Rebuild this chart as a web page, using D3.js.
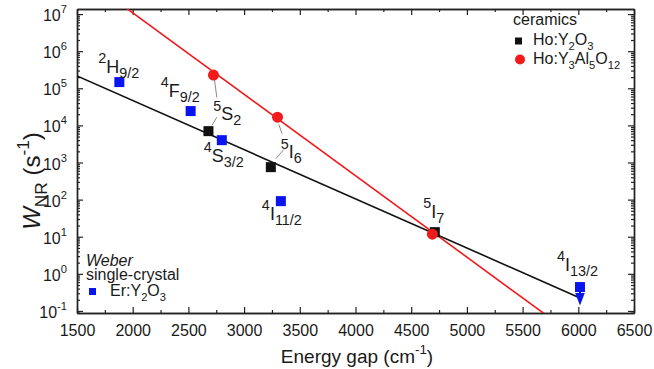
<!DOCTYPE html>
<html>
<head>
<meta charset="utf-8">
<script src="https://cdn.jsdelivr.net/npm/d3@7"></script>
<style>
  body { margin: 0; background: #fff; }
  text { font-family: "Liberation Sans", Arial, sans-serif; fill: #1a1a1a; }
</style>
</head>
<body>
<svg id="chart" width="654" height="369"></svg>
<script>
// Non-radiative decay rate vs. energy gap to the next lower level.
// Ho:Y2O3 ceramics (energy gap in cm^-1, rate in s^-1)
const hoY2O3Gap = [2680, 3240, 4712];
const hoY2O3Rate = [7.0e3, 7.5e2, 13.3];
// Ho:Y3Al5O12 ceramics
const hoYAGGap = [2725, 3300, 4690];
const hoYAGRate = [2.27e5, 1.67e4, 11.7];
// Er:Y2O3 single crystal (Weber)
const erY2O3Gap = [1880, 2520, 2800, 3330, 6015];
const erY2O3Rate = [1.47e5, 2.43e4, 4.0e3, 91, 0.44];
// the last Er:Y2O3 value is an upper limit
const erY2O3UpperLimit = [false, false, false, false, true];

// level labels: [multiplicity, term, J]
const hoLevels = [["5", "S", "2"], ["5", "I", "6"], ["5", "I", "7"]];
const erLevels = [["2", "H", "9/2"], ["4", "F", "9/2"], ["4", "S", "3/2"], ["4", "I", "11/2"], ["4", "I", "13/2"]];

// energy-gap-law fits, given by their end points
const hoY2O3FitGap = [1500, 6000];
const hoY2O3FitRate = [2.15e5, 0.235];
const hoYAGFitGap = [1900, 5700];
const hoYAGFitRate = [1.79e7, 0.082];

// axis ticks
const xMajorTicks = [1500, 2000, 2500, 3000, 3500, 4000, 4500, 5000, 5500, 6000, 6500];
const xMinorTicks = [1750, 2250, 2750, 3250, 3750, 4250, 4750, 5250, 5750, 6250];
const yExponents = [-1, 0, 1, 2, 3, 4, 5, 6, 7];

const RED = "#f21a1a", BLUE = "#0a14f0", BLACK = "#111";

const svg = d3.select("#chart");
const plot = { left: 77, right: 634, top: 9, bottom: 313 };

const x = d3.scaleLinear().domain([1500, 6500]).range([plot.left, plot.right]);
const y = d3.scaleLog().domain([0.088, 1.37e7]).range([plot.bottom, plot.top]);

const yMajor = yExponents.map(e => Math.pow(10, e));
const yMinor = [];
[-2, ...yExponents].forEach(e => {
  for (let m = 2; m <= 9; m++) {
    const v = m * Math.pow(10, e);
    if (v >= y.domain()[0] && v <= y.domain()[1]) yMinor.push(v);
  }
});

// rich text helper: parts = [[text, "n" | "sup" | "sub"], ...]
function rich(sel, parts, size, opts = {}) {
  const supShift = opts.sup ?? 0.45, subShift = opts.sub ?? 0.3, small = opts.small ?? 0.7;
  let cur = -(opts.dy0 ?? 0);
  parts.forEach(([t, k]) => {
    const target = k === "sup" ? -supShift * size : k === "sub" ? subShift * size : 0;
    const ts = sel.append("tspan")
      .attr("dy", target - cur)
      .attr("font-size", k === "n" ? size : size * small)
      .text(t);
    if (opts.italic && opts.italic.includes(t)) ts.attr("font-style", "italic");
    cur = target;
  });
  return sel;
}

// ---- axes (ticks point inward, frame formed by the four domain lines)
function styleAxis(g) {
  g.select(".domain").attr("stroke", "#222").attr("stroke-width", 1.4);
  g.selectAll(".tick line").attr("stroke", "#222").attr("stroke-width", 1.2);
}

const gx = svg.append("g").attr("transform", `translate(0,${plot.bottom})`)
  .call(d3.axisBottom(x).tickValues(xMajorTicks).tickSize(-6).tickPadding(12).tickSizeOuter(0)
    .tickFormat(d3.format("d")))
  .call(styleAxis);
gx.selectAll(".tick text").attr("font-size", 16).attr("fill", "#1a1a1a")
  .style("font-family", "Liberation Sans, Arial, sans-serif");

svg.append("g").attr("transform", `translate(0,${plot.bottom})`)
  .call(d3.axisBottom(x).tickValues(xMinorTicks).tickSize(-3).tickFormat("").tickSizeOuter(0))
  .call(styleAxis);
svg.append("g").attr("transform", `translate(0,${plot.top})`)
  .call(d3.axisTop(x).tickValues(xMajorTicks).tickSize(-6).tickFormat("").tickSizeOuter(0))
  .call(styleAxis);
svg.append("g").attr("transform", `translate(0,${plot.top})`)
  .call(d3.axisTop(x).tickValues(xMinorTicks).tickSize(-3).tickFormat("").tickSizeOuter(0))
  .call(styleAxis);

const gy = svg.append("g").attr("transform", `translate(${plot.left},0)`)
  .call(d3.axisLeft(y).tickValues(yMajor).tickSize(-6).tickPadding(10).tickFormat("").tickSizeOuter(0))
  .call(styleAxis);
gy.selectAll(".tick text").each(function (d) {
  const t = d3.select(this).attr("font-size", 16).attr("dy", null)
    .style("font-family", "Liberation Sans, Arial, sans-serif");
  rich(t, [["10", "n"], [String(Math.round(Math.log10(d))), "sup"]], 16, { sup: 0.5, dy0: 6.5 });
});
svg.append("g").attr("transform", `translate(${plot.left},0)`)
  .call(d3.axisLeft(y).tickValues(yMinor).tickSize(-3).tickFormat("").tickSizeOuter(0))
  .call(styleAxis);
svg.append("g").attr("transform", `translate(${plot.right},0)`)
  .call(d3.axisRight(y).tickValues(yMajor).tickSize(-6).tickFormat("").tickSizeOuter(0))
  .call(styleAxis);
svg.append("g").attr("transform", `translate(${plot.right},0)`)
  .call(d3.axisRight(y).tickValues(yMinor).tickSize(-3).tickFormat("").tickSizeOuter(0))
  .call(styleAxis);

// axis titles
rich(svg.append("text").attr("x", 357).attr("y", 363).attr("text-anchor", "middle"),
  [["Energy gap (cm", "n"], ["-1", "sup"], [")", "n"]], 19);
rich(svg.append("text").attr("transform", "translate(40,181) rotate(-90)").attr("text-anchor", "middle"),
  [["W", "n"], ["NR", "sub"], [" (s", "n"], ["-1", "sup"], [")", "n"]], 24, { italic: ["W"], small: 0.72 });

// ---- fit lines, clipped to the frame
svg.append("clipPath").attr("id", "plot-clip").append("rect")
  .attr("x", plot.left).attr("y", plot.top)
  .attr("width", plot.right - plot.left).attr("height", plot.bottom - plot.top);

const line = d3.line().x(d => x(d[0])).y(d => y(d[1]));
const fits = svg.append("g").attr("clip-path", "url(#plot-clip)");
fits.append("path").datum(d3.zip(hoY2O3FitGap, hoY2O3FitRate))
  .attr("d", line).attr("fill", "none").attr("stroke", BLACK).attr("stroke-width", 1.6);
fits.append("path").datum(d3.zip(hoYAGFitGap, hoYAGFitRate))
  .attr("d", line).attr("fill", "none").attr("stroke", RED).attr("stroke-width", 1.6);

// ---- connectors from the ceramic points to their shared level labels
// [from-red offset, to offset], [from-black offset, to offset]
const connRed = [[[1, 4.5], [3.4, 22.6]], [[1.3, 7.3], [4.6, 16.6]]];
const connBlack = [[[8.4, -14], [3.4, -5.7]], [[13, -17.7], [5, -8.4]]];
const conn = svg.append("g").attr("stroke", "#8a8a8a").attr("stroke-width", 1);
[0, 1].forEach(i => {
  const rx = x(hoYAGGap[i]), ry = y(hoYAGRate[i]);
  const bx = x(hoY2O3Gap[i]), by = y(hoY2O3Rate[i]);
  conn.append("line")
    .attr("x1", rx + connRed[i][0][0]).attr("y1", ry + connRed[i][0][1])
    .attr("x2", rx + connRed[i][1][0]).attr("y2", ry + connRed[i][1][1]);
  conn.append("line")
    .attr("x1", bx + connBlack[i][0][0]).attr("y1", by + connBlack[i][0][1])
    .attr("x2", bx + connBlack[i][1][0]).attr("y2", by + connBlack[i][1][1]);
});

// ---- markers
const sq = 10;
svg.append("g").selectAll("rect").data(d3.zip(erY2O3Gap, erY2O3Rate)).join("rect")
  .attr("x", d => x(d[0]) - sq / 2).attr("y", d => y(d[1]) - sq / 2)
  .attr("width", sq).attr("height", sq).attr("fill", BLUE);

// upper-limit arrow
svg.append("g").selectAll("path").data(d3.zip(erY2O3Gap, erY2O3Rate).filter((d, i) => erY2O3UpperLimit[i]))
  .join("path")
  .attr("d", d => {
    const cx = x(d[0]), cy = y(d[1]);
    return `M${cx - 1},${cy} L${cx + 1},${cy} L${cx + 1},${cy + 6} L${cx + 4.8},${cy + 6} L${cx},${cy + 18.5} L${cx - 4.8},${cy + 6} L${cx - 1},${cy + 6} Z`;
  })
  .attr("fill", BLUE);

svg.append("g").selectAll("rect").data(d3.zip(hoY2O3Gap, hoY2O3Rate)).join("rect")
  .attr("x", d => x(d[0]) - sq / 2).attr("y", d => y(d[1]) - sq / 2)
  .attr("width", sq).attr("height", sq).attr("fill", BLACK);
svg.append("g").selectAll("circle").data(d3.zip(hoYAGGap, hoYAGRate)).join("circle")
  .attr("cx", d => x(d[0])).attr("cy", d => y(d[1])).attr("r", 5.5).attr("fill", RED);

// ---- level labels (offsets from the marker they name)
function levelLabel(px, py, lvl) {
  rich(svg.append("text").attr("x", px).attr("y", py),
    [[lvl[0], "sup"], [lvl[1], "n"], [lvl[2], "sub"]], 18, { sup: 0.55, sub: 0.28, small: 0.8 });
}
const erOffsets = [[-21, -9], [-30, -14], [-18, 22], [-19, 19], [-23, -16.5]];
erLevels.forEach((lvl, i) => levelLabel(x(erY2O3Gap[i]) + erOffsets[i][0], y(erY2O3Rate[i]) + erOffsets[i][1], lvl));
const hoOffsets = [[4.7, -10.7], [10, -8.7], [-11.5, -14]];
hoLevels.forEach((lvl, i) => levelLabel(x(hoY2O3Gap[i]) + hoOffsets[i][0], y(hoY2O3Rate[i]) + hoOffsets[i][1], lvl));

// ---- legends
const lg = svg.append("g");
lg.append("text").attr("x", 513).attr("y", 25).attr("font-size", 16).text("ceramics");
lg.append("rect").attr("x", 515).attr("y", 37.5).attr("width", 7).attr("height", 7).attr("fill", BLACK);
rich(lg.append("text").attr("x", 533).attr("y", 45),
  [["Ho:Y", "n"], ["2", "sub"], ["O", "n"], ["3", "sub"]], 16);
lg.append("circle").attr("cx", 520).attr("cy", 59.5).attr("r", 5).attr("fill", RED);
rich(lg.append("text").attr("x", 533).attr("y", 64),
  [["Ho:Y", "n"], ["3", "sub"], ["Al", "n"], ["5", "sub"], ["O", "n"], ["12", "sub"]], 16);

const lw = svg.append("g");
lw.append("text").attr("x", 86).attr("y", 266).attr("font-size", 16).attr("font-style", "italic").text("Weber");
lw.append("text").attr("x", 86).attr("y", 280).attr("font-size", 16).text("single-crystal");
lw.append("rect").attr("x", 89).attr("y", 288).attr("width", 7).attr("height", 7).attr("fill", BLUE);
rich(lw.append("text").attr("x", 110).attr("y", 296),
  [["Er:Y", "n"], ["2", "sub"], ["O", "n"], ["3", "sub"]], 16);
</script>
</body>
</html>
